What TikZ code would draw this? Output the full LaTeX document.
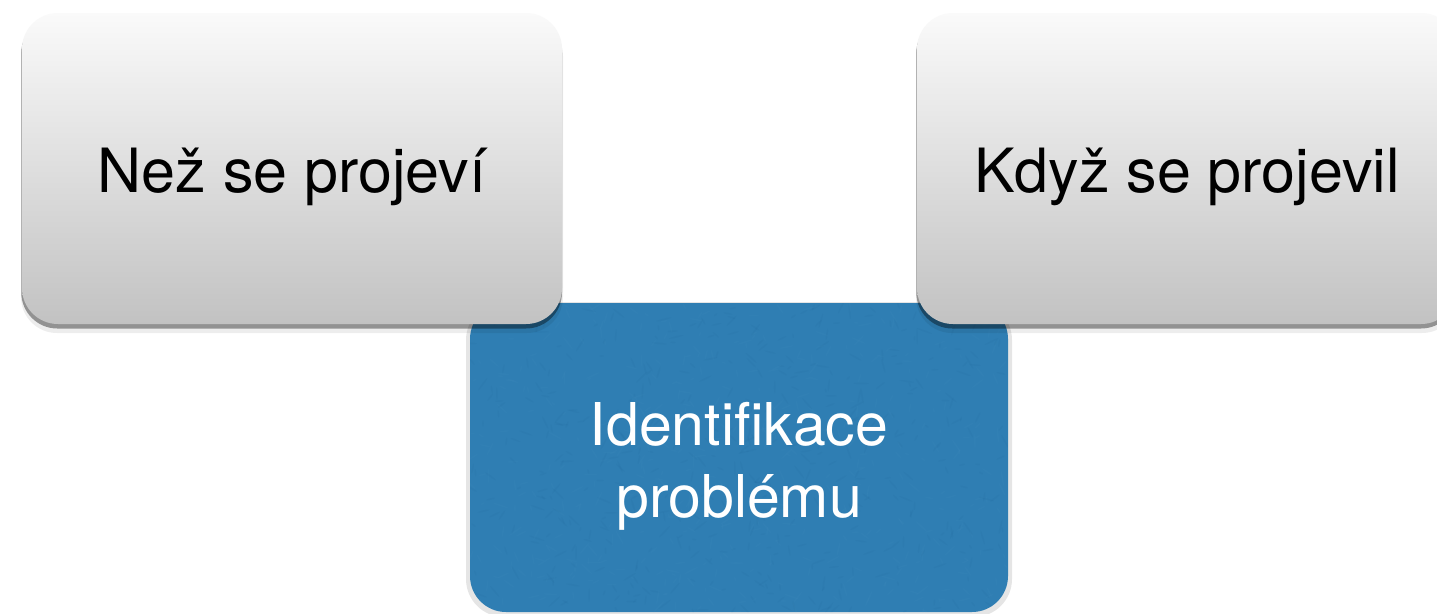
\documentclass[tikz,border=0pt]{standalone}
\usepackage{fontspec}
\setmainfont{TeX Gyre Heros}
\definecolor{gtop}{HTML}{FAFAFA}
\definecolor{gbot}{HTML}{C2C2C2}
\definecolor{boxblue}{HTML}{2F7EB3}
\definecolor{blued}{HTML}{1F6596}
\definecolor{bluel}{HTML}{4A92C2}
\begin{document}
\begin{tikzpicture}[x=1pt,y=-1pt,
  graybox/.style={rectangle, rounded corners=36pt, minimum width=540pt, minimum height=311pt, top color=gtop, bottom color=gbot, draw=none, inner sep=0pt},
  bluebox/.style={rectangle, rounded corners=36pt, minimum width=538pt, minimum height=309pt, fill=boxblue, draw=none, inner sep=0pt},
  graylabel/.style={anchor=base, font=\fontsize{61}{72}\selectfont, text=black, inner sep=0pt},
  bluelabel/.style={anchor=base, font=\fontsize{59}{72}\selectfont, text=white, inner sep=0pt},
]
\useasboundingbox (0,0) rectangle (1437,613);
\fill[white] (0,0) rectangle (1437,613);
\begin{scope}
\clip (0,0) rectangle (1437,613);
% shadow of the blue box
\fill[black,opacity=0.10,rounded corners=38pt] (466,302) rectangle (1012,617);
\node[bluebox] (blue) at (739,457.5) {};
% texture
\begin{scope}
\clip[rounded corners=36pt] (470,303) rectangle (1008,612);
\pgfmathsetseed{7}
\foreach \i in {1,...,500} {
  \pgfmathsetmacro\rx{470+538*rnd}
  \pgfmathsetmacro\ry{303+309*rnd}
  \pgfmathsetmacro\rr{2+6*rnd}
  \pgfmathsetmacro\ra{180*rnd}
  \fill[blued,opacity=0.10,rotate around={\ra:(\rx,\ry)}] (\rx,\ry) ellipse [x radius=\rr pt, y radius=0.8pt];
  \pgfmathsetmacro\sx{470+538*rnd}
  \pgfmathsetmacro\sy{303+309*rnd}
  \fill[bluel,opacity=0.10,rotate around={\ra:(\sx,\sy)}] (\sx,\sy) ellipse [x radius=\rr pt, y radius=0.8pt];
}
\end{scope}
% shadows of the grey boxes
\foreach \cx in {292,1187} {
  \fill[black,opacity=0.07,rounded corners=36pt] (\cx-271,20) rectangle (\cx+271,333);
  \fill[black,opacity=0.38,rounded corners=36pt] (\cx-270.7,17) rectangle (\cx+270,328.5);
}
\node[graybox] (left) at (292,168.5) {};
\node[graybox] (right) at (1187,168.5) {};
\end{scope}
\node[graylabel] (lefttext) at ([yshift=-23.5pt]left.center) {Než se projeví};
\node[graylabel] (righttext) at ([yshift=-23.5pt]right.center) {Když se projevil};
\node[bluelabel] (bluetext1) at ([yshift=12.5pt]blue.center) {Identifikace};
\node[bluelabel] (bluetext2) at ([yshift=-59.5pt]blue.center) {problému};
\end{tikzpicture}
\end{document}
